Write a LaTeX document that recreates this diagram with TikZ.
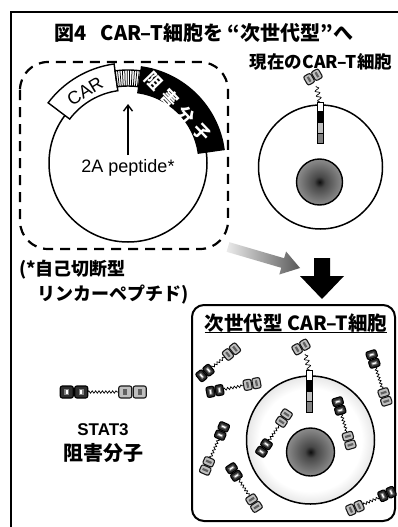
\documentclass[tikz,border=0pt]{standalone}
\usepackage{fontspec}
\newfontfamily\jp{Noto Sans CJK JP}
\newfontfamily\lat{Liberation Sans}
\usetikzlibrary{arrows.meta,decorations.pathmorphing}
\newcommand\fsz[1]{\fontsize{#1}{#1}\selectfont}

% cytoplasm: white near the nucleus, darker towards the membrane
\pgfdeclareradialshading{cellshade}{\pgfpoint{0bp}{0bp}}{color(0bp)=(white); color(20bp)=(white); color(36bp)=(black!30); color(50bp)=(black!62)}
% nucleus: dark centre fading to grey
\pgfdeclareradialshading{nucshade}{\pgfpoint{0bp}{0bp}}{color(0bp)=(black!95); color(6bp)=(black!72); color(25bp)=(black!45); color(50bp)=(black!28)}

\tikzset{
  mol a/.store in=\molA, mol b/.store in=\molB, mol d/.store in=\molD, mol gap/.store in=\molG,
  mol a=8, mol b=10.5, mol d=37, mol gap=1,
  darkblk/.style={fill=black!82, draw=black, line width=1.1pt, rounded corners=2pt},
  lightblk/.style={fill=black!25, draw=black!90, line width=1.1pt, rounded corners=2pt},
  linker/.style={decorate, decoration={snake, segment length=3.4pt, amplitude=1.2pt}, line width=0.7pt},
  pics/darkpair/.style={code={
    \foreach \s in {-1,1} {
      \path[darkblk] ({\s*\molG/2},{-\molB/2}) rectangle ({\s*(\molG/2+\molA)},{\molB/2});
      \fill[black!50] ({\s*(\molG/2+0.3*\molA)},{-0.28*\molB}) rectangle ({\s*(\molG/2+0.7*\molA)},{0.28*\molB});
      \fill[white] ({\s*(\molG/2+0.42*\molA)},{-0.18*\molB}) rectangle ({\s*(\molG/2+0.58*\molA)},{0.18*\molB});
    }}},
  pics/lightpair/.style={code={
    \foreach \s in {-1,1} {
      \path[lightblk] ({\s*\molG/2},{-\molB/2}) rectangle ({\s*(\molG/2+\molA)},{\molB/2});
      \fill[black!62] ({\s*(\molG/2+0.36*\molA)},{-0.28*\molB}) rectangle ({\s*(\molG/2+0.64*\molA)},{0.28*\molB});
    }}},
  pics/statmol/.style={code={
    \draw[linker] ({\molG/2+\molA},0) -- ({\molD-\molG/2-\molA},0);
    \pic[transform shape] {darkpair};
    \pic[transform shape] at ({\molD},0) {lightpair};
  }},
  jp/.style={inner sep=0pt, font=\jp\bfseries\fsz{#1}},
  la/.style={inner sep=0pt, font=\lat\fsz{#1}},
  seg/.style={draw=black, line width=0.8pt},
  band/.style={draw=black, line width=1.4pt},
}

\begin{document}
\begin{tikzpicture}[x=1pt,y=-1pt]
\clip (0,0) rectangle (398,527);
\fill[white] (0,0) rectangle (398,527);

% outer frame
\draw[line width=2pt] (11,12) rectangle (405,540);

% title
\node[jp=20] (title) at (204,33) {図4\hspace{0.7em}CAR–T細胞を “次世代型”へ};

% ---------- construct (vector) ----------
\draw[dashed, dash pattern=on 10pt off 7pt, line width=2.2pt, rounded corners=28pt] (20,62) rectangle (228,249);
\draw[line width=1.5pt] (128,163) circle[radius=79];
\begin{scope}[shift={(128,163)}]
  % CAR gene
  \path[band, fill=white] (-143:100) arc[start angle=-143, end angle=-98, radius=100]
     -- (-98:73) arc[start angle=-98, end angle=-143, radius=73] -- cycle;
  % 2A peptide linker
  \fill[white] (-98:77) arc[start angle=-98, end angle=-82, radius=77]
     -- (-82:93) arc[start angle=-82, end angle=-98, radius=93] -- cycle;
  \foreach \a in {-96.5,-95,...,-83} \draw[line width=0.75pt] (\a:77) -- (\a:93);
  \draw[band] (-98:77) arc[start angle=-98, end angle=-82, radius=77]
     -- (-82:93) arc[start angle=-82, end angle=-98, radius=93] -- cycle;
  % inhibitor gene
  \path[band, fill=black] (-82:97) arc[start angle=-82, end angle=-8, radius=97]
     -- (-8:71) arc[start angle=-8, end angle=-82, radius=71] -- cycle;
\end{scope}
\node[la=18, rotate=31] (car) at (85,91) {CAR};
\node[jp=17, white, rotate=-46] (gene) at (178,106.5) {阻\hspace{6.5pt}害\hspace{6.5pt}分\hspace{6.5pt}子};
\node[la=18] (pep) at (128,168) {2A peptide*};
\coordinate (pepTip) at (128,104);
\draw[line width=1.4pt, -{Straight Barb[length=6pt, width=9pt]}] (pep.north |- 0,155) -- (pepTip);

\node[jp=18, anchor=west] (note1) at (19,270) {(*自己切断型};
\node[jp=18, anchor=west] (note2) at (37,295) {リンカーペプチド)};

% ---------- current CAR-T cell ----------
\node[jp=17.5] (curlabel) at (321,62) {現在のCAR–T細胞};
\draw[line width=1.5pt, fill=white] (320.5,167) circle[radius=62];
\shade[shading=nucshade] (319.5,182) circle[radius=23];
\draw[line width=1.4pt] (319.5,182) circle[radius=23];
\draw[decorate, decoration={snake, segment length=5pt, amplitude=2.2pt}, line width=0.7pt] (320,102) -- (316,86);
\pic[rotate=30, mol a=8, mol b=10] at (313,77) {lightpair};
\path[seg, fill=white] (317,102) rectangle (323,111);
\path[seg, fill=black] (317,111) rectangle (323,122);
\path[seg, fill=black!25] (317,122) rectangle (323,133);
\path[seg, fill=black!50] (317,133) rectangle (323,143);

% ---------- arrows ----------
\shade[left color=black!8, right color=black!65]
  (229.4,242.2) -- (284.1,258.2) -- (286.1,251.5) -- (300,268) -- (279.3,274.5) -- (281.3,267.8) -- (226.6,251.8) -- cycle;
\fill[black] (314,258) -- (330,258) -- (330,276) -- (344,276) -- (322,299) -- (300,276) -- (314,276) -- cycle;

% ---------- next generation CAR-T cell ----------
\draw[line width=2pt, rounded corners=12pt] (192,305) rectangle (395,521);
\node[jp=19.5] (nglabel) at (296,323) {次世代型 CAR–T細胞};
\draw[line width=1pt] ([yshift=-2.5pt]nglabel.base west) -- ([yshift=-2.5pt]nglabel.base east);

\shade[shading=cellshade] (310.5,440) circle[radius=64];
\draw[line width=1.5pt] (310.5,440) circle[radius=64];
\shade[shading=nucshade] (310.5,452) circle[radius=24];
\draw[line width=1.4pt] (310.5,452) circle[radius=24];

\draw[decorate, decoration={snake, segment length=5pt, amplitude=2.2pt}, line width=0.7pt] (309.5,370) -- (305,354);
\pic[rotate=30, mol a=8, mol b=10] at (301,347) {lightpair};
\path[seg, fill=white] (306.5,370) rectangle (312.5,380);
\path[seg, fill=black] (306.5,380) rectangle (312.5,391);
\path[seg, fill=black!25] (306.5,391) rectangle (312.5,401);
\path[seg, fill=black!50] (306.5,401) rectangle (312.5,412);

\pic[rotate=38.9, mol d=34] at (205,373) {statmol};
\pic[rotate=10.7, mol d=37.7] at (215,391) {statmol};
\pic[rotate=-72.5, mol d=39.8] at (373,359) {statmol};
\pic[rotate=-73.6, mol d=36] at (339,406) {statmol};
\pic[rotate=56.3, mol d=36] at (264,448) {statmol};
\pic[rotate=-113.2, mol d=38] at (222,431) {statmol};
\pic[rotate=-57.2, mol d=37] at (234,472) {statmol};
\pic[rotate=-156.4, mol d=35] at (387,494) {statmol};

% ---------- legend ----------
\pic[mol a=13, mol b=12, mol d=58.5, mol gap=1.5] at (74,392) {statmol};
\node[la=17, font=\lat\bfseries\fsz{17}] (stat) at (103,430) {STAT3};
\node[jp=20] (inh) at (103,453) {阻害分子};
\end{tikzpicture}
\end{document}
